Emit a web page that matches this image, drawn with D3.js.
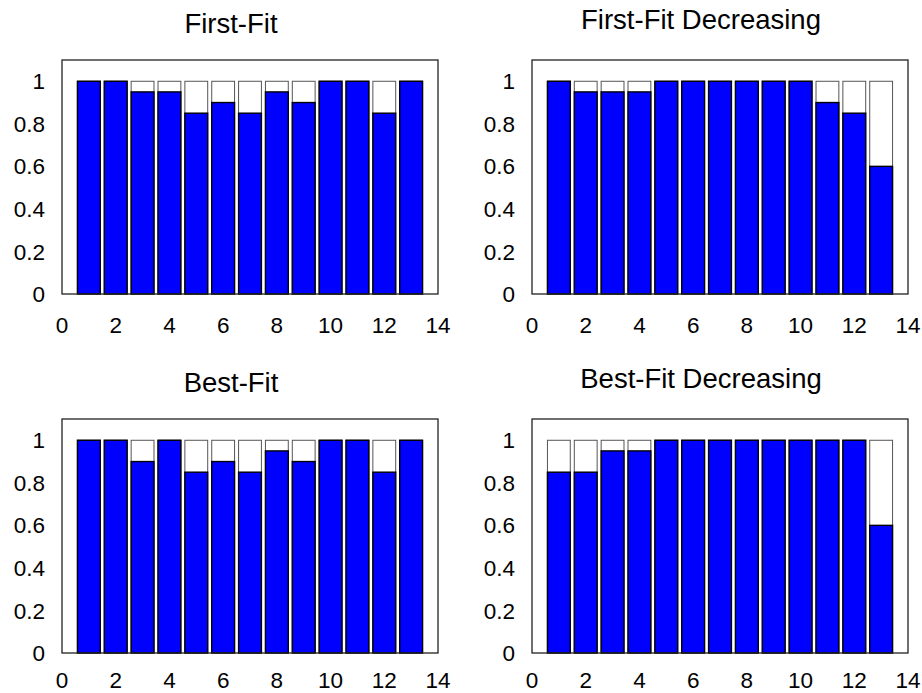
<!DOCTYPE html>
<html>
<head>
<meta charset="utf-8">
<script src="https://cdn.jsdelivr.net/npm/d3@7"></script>
<style>
  body { margin: 0; background: #fff; overflow: hidden; }
  svg text { font-family: "Liberation Sans", Arial, sans-serif; fill: #000; }
</style>
</head>
<body>
<div id="graphicContainer"></div>
<script>

const bins = [1, 2, 3, 4, 5, 6, 7, 8, 9, 10, 11, 12, 13]

const capacity = [1, 1, 1, 1, 1, 1, 1, 1, 1, 1, 1, 1, 1]

const firstFit = [1, 1, 0.95, 0.95, 0.85, 0.9, 0.85, 0.95, 0.9, 1, 1, 0.85, 1]

const firstFitDecreasing = [1, 0.95, 0.95, 0.95, 1, 1, 1, 1, 1, 1, 0.9, 0.85, 0.6]

const bestFit = [1, 1, 0.9, 1, 0.85, 0.9, 0.85, 0.95, 0.9, 1, 1, 0.85, 1]

const bestFitDecreasing = [0.85, 0.85, 0.95, 0.95, 1, 1, 1, 1, 1, 1, 1, 1, 0.6]

const xTicks = [0, 2, 4, 6, 8, 10, 12, 14]

const yTicks = [0, 0.2, 0.4, 0.6, 0.8, 1]

const panels = [
  { title: "First-Fit", values: firstFit, left: 62, top: 60, titleY: 33, labelY: 39 },
  { title: "First-Fit Decreasing", values: firstFitDecreasing, left: 532, top: 60, titleY: 29, labelY: 39 },
  { title: "Best-Fit", values: bestFit, left: 62, top: 419, titleY: 392, labelY: 35 },
  { title: "Best-Fit Decreasing", values: bestFitDecreasing, left: 532, top: 419, titleY: 388, labelY: 35 }
]

const width = 376
const height = 234

const svg = d3.select("#graphicContainer").append("svg")
  .attr("width", 922)
  .attr("height", 693)
  .style("display", "block")

const x = d3.scaleLinear()
  .domain([0, 14])
  .range([0, width])

const y = d3.scaleLinear()
  .domain([0, 1.1])
  .range([height, 0])

const barW = x(0.85) - x(0)

panels.forEach((p) => {

  svg.append("text")
    .attr("x", p.left + width / 2 - 19)
    .attr("y", p.titleY)
    .attr("text-anchor", "middle")
    .style("font-size", "27.5px")
    .text(p.title)

  const g = svg.append("g")
    .attr("transform", `translate(${p.left}, ${p.top})`)

  // bin capacity (empty part)
  g.selectAll(".cap")
    .data(bins)
    .enter()
    .append("rect")
    .attr("class", "cap")
    .attr("x", (d) => x(d) - barW / 2)
    .attr("y", (d, i) => y(capacity[i]))
    .attr("width", barW)
    .attr("height", (d, i) => y(0) - y(capacity[i]))
    .attr("fill", "#fff")
    .attr("stroke", "#555")
    .attr("stroke-width", 1)

  // filled part
  g.selectAll(".fill")
    .data(bins)
    .enter()
    .append("rect")
    .attr("class", "fill")
    .attr("x", (d) => x(d) - barW / 2)
    .attr("y", (d, i) => y(p.values[i]))
    .attr("width", barW)
    .attr("height", (d, i) => y(0) - y(p.values[i]))
    .attr("fill", "#0000ff")
    .attr("stroke", "#000")
    .attr("stroke-width", 1.4)

  g.append("rect")
    .attr("x", 0)
    .attr("y", 0)
    .attr("width", width)
    .attr("height", height)
    .attr("fill", "none")
    .attr("stroke", "#222")
    .attr("stroke-width", 1.3)

  g.selectAll(".ylab")
    .data(yTicks)
    .enter()
    .append("text")
    .attr("class", "ylab")
    .attr("x", -17)
    .attr("y", (d) => y(d))
    .attr("dy", "0.36em")
    .attr("text-anchor", "end")
    .style("font-size", "22.5px")
    .text((d) => d)

  g.selectAll(".xlab")
    .data(xTicks)
    .enter()
    .append("text")
    .attr("class", "xlab")
    .attr("x", (d) => x(d))
    .attr("y", height + p.labelY)
    .attr("text-anchor", "middle")
    .style("font-size", "22.5px")
    .text((d) => d)

})

</script>
</body>
</html>
